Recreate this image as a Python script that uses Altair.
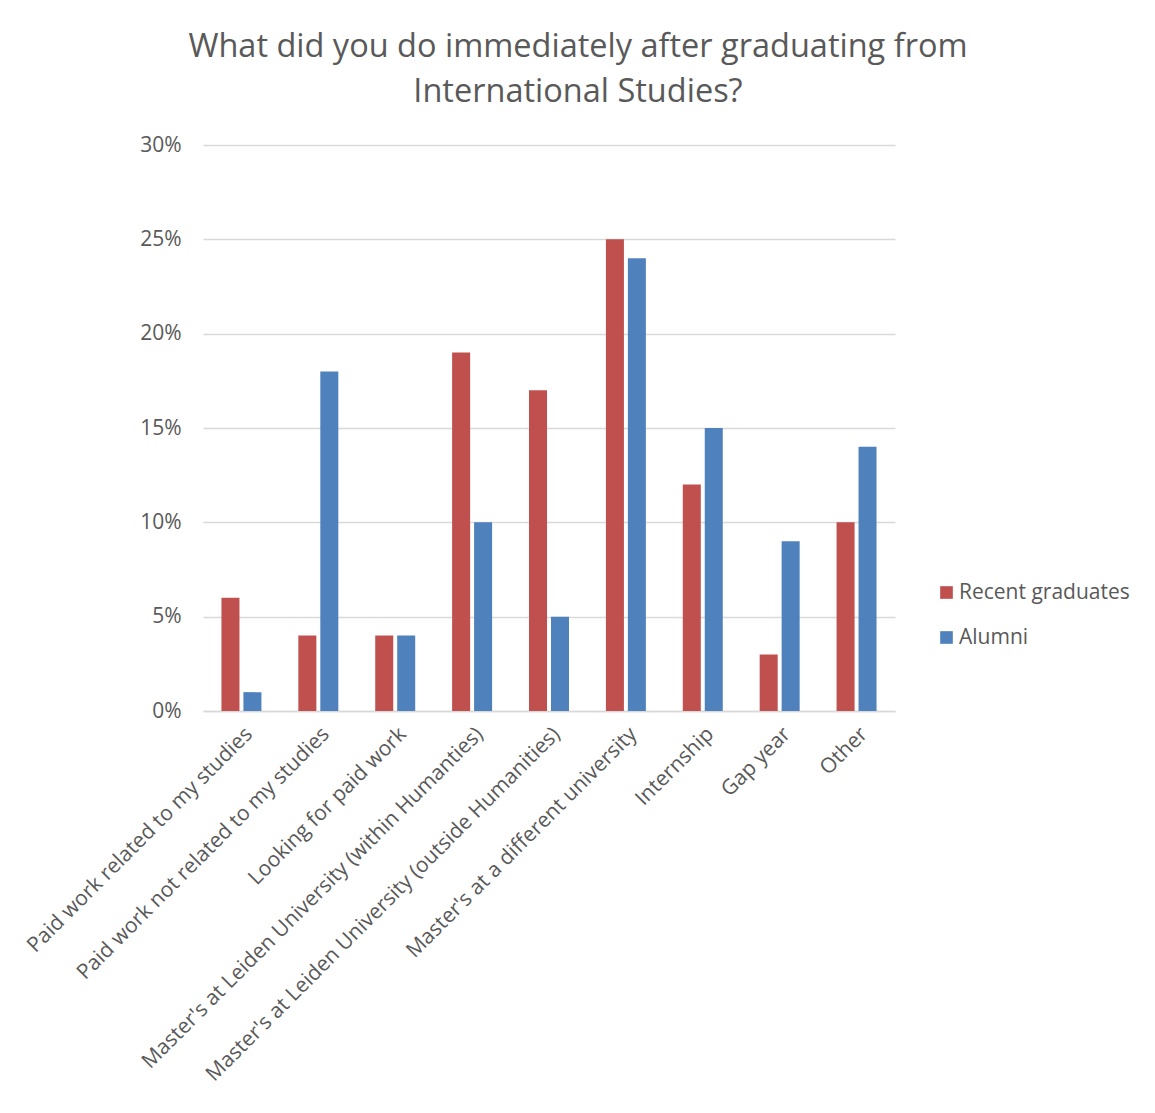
import altair as alt
import pandas as pd

categories = [
    "Paid work related to my  studies",
    "Paid work not related to my studies",
    "Looking for paid work",
    "Master's at   Leiden University (within Humanties)",
    "Master's at Leiden University (outside Humanities)",
    "Master's at a different university",
    "Internship",
    "Gap year",
    "Other",
]
series = ["Recent graduates", "Alumni"]
recent = [0.06, 0.04, 0.04, 0.19, 0.17, 0.25, 0.12, 0.03, 0.10]
alumni = [0.01, 0.18, 0.04, 0.10, 0.05, 0.24, 0.15, 0.09, 0.14]
y_ticks = [0, 0.05, 0.10, 0.15, 0.20, 0.25, 0.30]
colors = ["#C0504D", "#4F81BD"]

rows = []
for c, r, a in zip(categories, recent, alumni):
    rows.append({"category": c, "series": series[0], "value": r})
    rows.append({"category": c, "series": series[1], "value": a})
df = pd.DataFrame(rows)

FONT = "Open Sans"
TXT = "#595959"
FS = 21

chart = alt.Chart(df).mark_bar().encode(
    x=alt.X("category:N", sort=categories,
            scale=alt.Scale(paddingInner=0.48, paddingOuter=0.24),
            axis=alt.Axis(title=None, labelAngle=-45, labelFont=FONT, labelFontSize=FS,
                          labelColor=TXT, labelLimit=700, ticks=False,
                          domainColor="#d9d9d9", domainWidth=1.5, labelPadding=12)),
    xOffset=alt.XOffset("series:N", sort=series,
                        scale=alt.Scale(paddingInner=0.18, paddingOuter=0)),
    y=alt.Y("value:Q", scale=alt.Scale(domain=[0, 0.30], nice=False),
            axis=alt.Axis(title=None, values=y_ticks, format=".0%", labelFont=FONT,
                          labelFontSize=FS, labelColor=TXT, ticks=False, domain=False,
                          gridColor="#d9d9d9", gridWidth=1.5, labelPadding=22)),
    color=alt.Color("series:N", sort=series,
                    scale=alt.Scale(domain=series, range=colors),
                    legend=alt.Legend(title=None, orient="none", legendX=733, legendY=437,
                                      labelFont=FONT, labelFontSize=FS, labelColor=TXT,
                                      labelLimit=400,
                                      symbolType="square", symbolSize=160,
                                      symbolStrokeWidth=0, rowPadding=23, labelOffset=2)),
).properties(
    width=692,
    height=566,
    title=alt.TitleParams(
        text=["What did you do immediately after graduating from", "International Studies?"],
        font=FONT, fontSize=32.5, fontWeight="normal", color=TXT, anchor="middle",
        dx=29, offset=26, lineHeight=45,
    ),
    padding={"left": 203, "top": 145, "right": 260, "bottom": 402},
    autosize=alt.AutoSizeParams(type="none"),
    background="white",
).configure_view(stroke=None)

chart.save("out.html", embed_options={"renderer": "svg", "actions": False})
